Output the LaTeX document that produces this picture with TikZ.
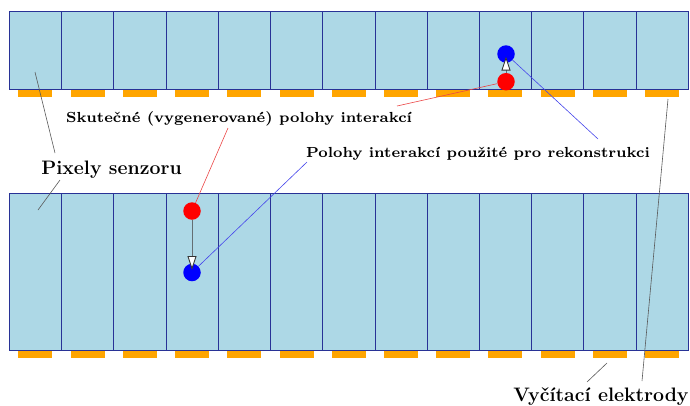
\documentclass[tikz,border=0pt]{standalone}
\usepackage{fontspec}
\newfontfamily\lmsevenbold{lmroman7-bold.otf}
\usetikzlibrary{arrows.meta}
\definecolor{cellfill}{RGB}{173,216,230}
\definecolor{cellline}{RGB}{40,50,150}
\definecolor{elec}{RGB}{255,165,0}
\definecolor{redline}{RGB}{235,70,70}
\definecolor{blueline}{RGB}{70,70,235}
\definecolor{arrowgray}{RGB}{100,110,115}
\begin{document}
\begin{tikzpicture}[x=1pt,y=-1pt,
  cell/.style={draw=cellline, fill=cellfill, line width=0.8pt, minimum width=52.23pt, inner sep=0pt, outer sep=0pt, anchor=north west},
  electrode/.style={fill=elec, minimum width=34pt, minimum height=7pt, inner sep=0pt, outer sep=0pt, anchor=north},
  ball/.style={circle, minimum size=17.5pt, inner sep=0pt},
  pointer/.style={draw=arrowgray, line width=0.9pt, -{Triangle[length=14pt, width=9pt, fill=white, color=black!80]}, shorten >=2.5pt},
  smalllabel/.style={font=\fontsize{14.6}{17}\lmsevenbold, inner sep=0pt, anchor=base},
  biglabel/.style={font=\fontsize{19.5}{23}\selectfont\bfseries, inner sep=0pt, anchor=base},
  redlead/.style={draw=redline, line width=0.6pt},
  bluelead/.style={draw=blueline, line width=0.6pt},
  graylead/.style={draw=black!65, line width=0.6pt}]
\useasboundingbox (0,0) rectangle (690,405);
% sensor strips
\foreach \i in {0,...,12} {
  \node[cell, minimum height=78.5pt] (t\i) at ({9.3+52.23*\i},11) {};
  \node[cell, minimum height=157pt] (b\i) at ({9.3+52.23*\i},193.5) {};
}
\foreach \i in {0,...,12} {
  \node[electrode] (te\i) at ({9.3+52.23*(\i+0.5)},89.7) {};
  \node[electrode] (be\i) at ({9.3+52.23*(\i+0.5)},350.7) {};
}
% interaction positions
\node[ball, fill=red] (rt) at (506,81.7) {};
\node[ball, fill=blue] (bt) at (506,54) {};
\node[ball, fill=red] (rb) at (192,211) {};
\node[ball, fill=blue] (bb) at (192,272.5) {};
\draw[pointer] (rt) -- (bt.center);
\draw[pointer] (rb) -- (bb.center);
% labels
\node[smalllabel] (real) at (239,122.3) {Skutečné (vygenerované) polohy interakcí};
\node[smalllabel] (reco) at (478,157.3) {Polohy interakcí použité pro rekonstrukci};
\node[biglabel] (pix) at (111.5,174) {Pixely senzoru};
\node[biglabel] (ele) at (601,401.7) {Vyčítací elektrody};
% leader lines
\coordinate (realA) at (397,106);
\coordinate (realB) at (228,128);
\coordinate (recoA) at (598,139);
\coordinate (recoB) at (307,162);
\coordinate (pixA) at (55,153);
\coordinate (pixB) at (60,180);
\coordinate (pixT) at (35,72);
\coordinate (pixU) at (38,210);
\coordinate (eleA) at (587,382);
\coordinate (eleB) at (642,381);
\coordinate (eleT) at (607,363);
\coordinate (eleU) at (668,99);
\draw[redlead] (realA) -- (rt);
\draw[redlead] (realB) -- (rb);
\draw[bluelead] (recoA) -- (bt);
\draw[bluelead] (recoB) -- (bb);
\draw[graylead] (pixA) -- (pixT);
\draw[graylead] (pixB) -- (pixU);
\draw[graylead] (eleA) -- (eleT);
\draw[graylead] (eleB) -- (eleU);
\end{tikzpicture}
\end{document}
